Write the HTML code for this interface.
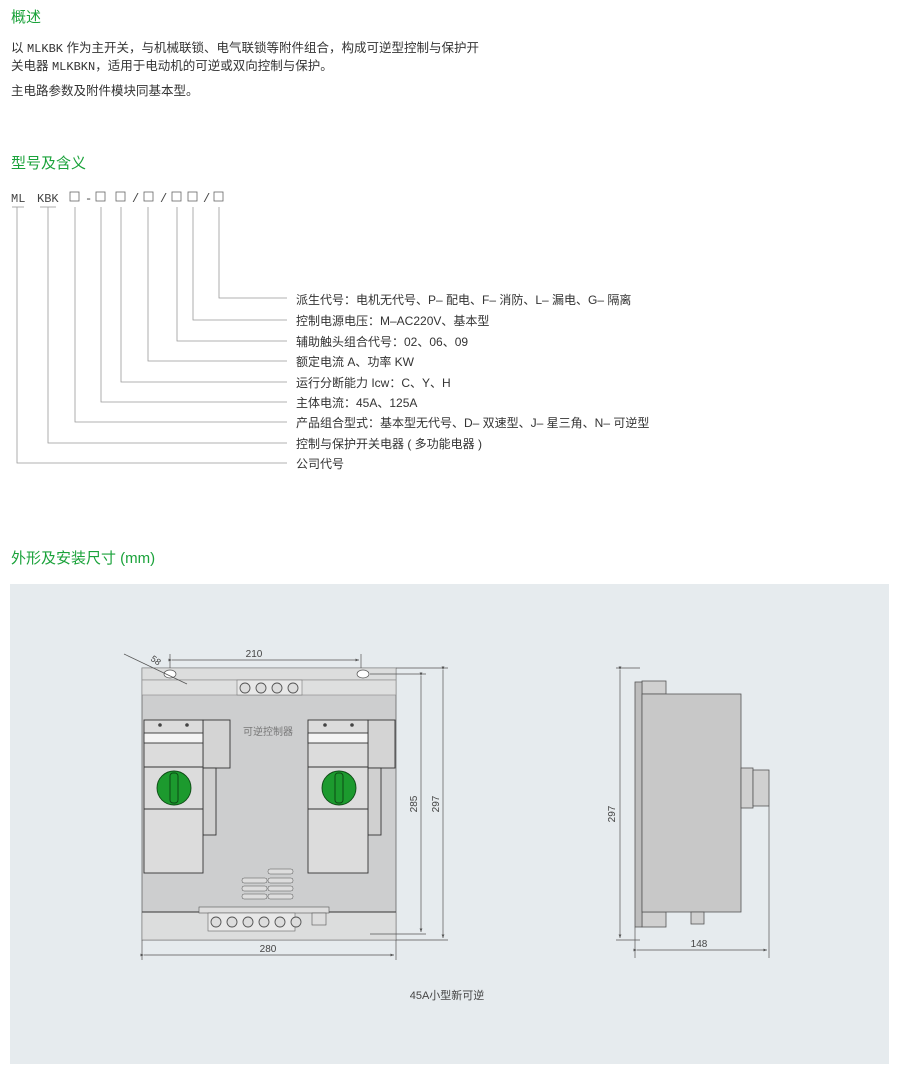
<!DOCTYPE html>
<html><head><meta charset="utf-8">
<style>
body{margin:0;width:900px;height:1074px;background:#fff;position:relative;font-family:"Liberation Sans","Noto Sans CJK SC",sans-serif;color:#333;overflow:hidden}
.t{position:absolute;white-space:nowrap}
.h{color:#1aa23a;font-size:15px}
.p{font-size:12.5px;color:#333}
.mono{font-family:"Liberation Mono",monospace;font-size:12px}
.l{font-size:12px;color:#333}
</style></head><body>
<div class="t h" style="left:11px;top:6px">概述</div>
<div class="t p" style="left:11px;top:37px">以 <span class="mono">MLKBK</span> 作为主开关，与机械联锁、电气联锁等附件组合，构成可逆型控制与保护开</div>
<div class="t p" style="left:11px;top:55px">关电器 <span class="mono">MLKBKN</span>，适用于电动机的可逆或双向控制与保护。</div>
<div class="t p" style="left:11px;top:80px">主电路参数及附件模块同基本型。</div>
<div class="t h" style="left:11px;top:152px">型号及含义</div>
<div class="t h" style="left:11px;top:547px">外形及安装尺寸 (mm)</div>

<svg style="position:absolute;left:0;top:0" width="900" height="480">
<g font-family="Liberation Mono,monospace" font-size="12" fill="#444">
<text x="11" y="202">ML</text><text x="37" y="202">KBK</text>
<text x="85" y="202">-</text><text x="132" y="202">/</text><text x="160" y="202">/</text><text x="203" y="202">/</text>
</g>
<g fill="none" stroke="#666" stroke-width="0.8">
<rect x="70" y="192" width="9" height="9"/><rect x="96" y="192" width="9" height="9"/><rect x="116" y="192" width="9" height="9"/>
<rect x="144" y="192" width="9" height="9"/><rect x="172" y="192" width="9" height="9"/><rect x="188" y="192" width="9" height="9"/><rect x="214" y="192" width="9" height="9"/>
</g>
<g fill="none" stroke="#999" stroke-width="0.8">
<line x1="12" y1="207" x2="24" y2="207"/><line x1="40" y1="207" x2="56" y2="207"/>
<path d="M219 207V298H287M193 207V320H287M177 207V341H287M148 207V361H287M121 207V382H287M101 207V402H287M75 207V422H287M48 207V443H287M17 207V463H287"/>
</g>
</svg>
<div class="t l" style="left:296px;top:291px">派生代号：电机无代号、P– 配电、F– 消防、L– 漏电、G– 隔离</div>
<div class="t l" style="left:296px;top:312px">控制电源电压：M–AC220V、基本型</div>
<div class="t l" style="left:296px;top:333px">辅助触头组合代号：02、06、09</div>
<div class="t l" style="left:296px;top:353px">额定电流 A、功率 KW</div>
<div class="t l" style="left:296px;top:374px">运行分断能力 Icw：C、Y、H</div>
<div class="t l" style="left:296px;top:394px">主体电流：45A、125A</div>
<div class="t l" style="left:296px;top:414px">产品组合型式：基本型无代号、D– 双速型、J– 星三角、N– 可逆型</div>
<div class="t l" style="left:296px;top:435px">控制与保护开关电器 ( 多功能电器 )</div>
<div class="t l" style="left:296px;top:455px">公司代号</div>

<div style="position:absolute;left:10px;top:584px;width:879px;height:480px;background:#e6ebee"></div>
<svg style="position:absolute;left:0;top:0" width="900" height="1074">
<defs><marker id="a" markerWidth="6" markerHeight="6" refX="5" refY="3" orient="auto"><path d="M0,1L5,3L0,5z" fill="#555"/></marker></defs>
<rect x="142" y="668" width="254" height="272" fill="#cdcecf" stroke="#666" stroke-width="0.8"/>
<rect x="142" y="668" width="254" height="12" fill="#dcdddd" stroke="#888" stroke-width="0.6"/>
<rect x="142" y="680" width="254" height="15" fill="#dedfdf" stroke="#888" stroke-width="0.6"/>
<rect x="237" y="680" width="65" height="15" fill="#e8e8e8" stroke="#777" stroke-width="0.6"/>
<g fill="#ddd" stroke="#555" stroke-width="0.9"><circle cx="245" cy="688" r="5"/><circle cx="261" cy="688" r="5"/><circle cx="277" cy="688" r="5"/><circle cx="293" cy="688" r="5"/></g>
<g fill="#fff" stroke="#555" stroke-width="0.7"><ellipse cx="170" cy="674" rx="6" ry="4"/><ellipse cx="363" cy="674" rx="6" ry="4"/><ellipse cx="170" cy="934" rx="6" ry="4"/><ellipse cx="363" cy="934" rx="6" ry="4"/></g>
<rect x="142" y="912" width="254" height="28" fill="#dcdddd" stroke="#777" stroke-width="0.6"/>
<line x1="142" y1="912" x2="396" y2="912" stroke="#555" stroke-width="1.2"/>
<rect x="199" y="907" width="130" height="6" fill="#ddd" stroke="#555" stroke-width="0.6"/>
<rect x="208" y="913" width="87" height="18" fill="#e8e8e8" stroke="#666" stroke-width="0.6"/>
<g fill="#ddd" stroke="#555" stroke-width="0.9"><circle cx="216" cy="922" r="5"/><circle cx="232" cy="922" r="5"/><circle cx="248" cy="922" r="5"/><circle cx="264" cy="922" r="5"/><circle cx="280" cy="922" r="5"/><circle cx="296" cy="922" r="5"/></g>
<rect x="312" y="913" width="14" height="12" fill="#ddd" stroke="#555" stroke-width="0.6"/>
<g stroke="#333" stroke-width="0.9">
<rect x="203" y="720" width="27" height="48" fill="#d4d4d4"/><rect x="203" y="768" width="13" height="67" fill="#d0d0d0"/>
<rect x="144" y="720" width="59" height="153" fill="#dcdcdc"/>
<rect x="144" y="733" width="59" height="10" fill="#f4f4f4"/>
<line x1="144" y1="767" x2="203" y2="767"/><line x1="144" y1="809" x2="203" y2="809"/>
<rect x="368" y="720" width="27" height="48" fill="#d4d4d4"/><rect x="368" y="768" width="13" height="67" fill="#d0d0d0"/>
<rect x="308" y="720" width="60" height="153" fill="#dcdcdc"/>
<rect x="308" y="733" width="60" height="10" fill="#f4f4f4"/>
<line x1="308" y1="767" x2="368" y2="767"/><line x1="308" y1="809" x2="368" y2="809"/>
</g>
<g fill="#444"><circle cx="160" cy="725" r="1.8"/><circle cx="187" cy="725" r="1.8"/><circle cx="325" cy="725" r="1.8"/><circle cx="352" cy="725" r="1.8"/></g>
<g fill="#1c9a2e" stroke="#0d4a14" stroke-width="0.9"><circle cx="174" cy="788" r="17"/><circle cx="339" cy="788" r="17"/></g>
<g fill="none" stroke="#0d4a14" stroke-width="1"><rect x="170" y="773" width="8" height="30" rx="3"/><rect x="335" y="773" width="8" height="30" rx="3"/></g>
<text x="243" y="735" font-size="10" fill="#777" font-family="Noto Sans CJK SC,sans-serif">可逆控制器</text>
<g fill="#ddd" stroke="#555" stroke-width="0.5">
<rect x="268" y="869" width="25" height="5" rx="2"/><rect x="242" y="878" width="25" height="5" rx="2"/><rect x="268" y="878" width="25" height="5" rx="2"/>
<rect x="242" y="886" width="25" height="5" rx="2"/><rect x="268" y="886" width="25" height="5" rx="2"/><rect x="242" y="894" width="25" height="5" rx="2"/><rect x="268" y="894" width="25" height="5" rx="2"/>
</g>
<g stroke="#555" stroke-width="0.7" fill="none">
<line x1="170" y1="654" x2="170" y2="668"/><line x1="361" y1="654" x2="361" y2="668"/>
<line x1="172" y1="660" x2="359" y2="660" marker-end="url(#a)" marker-start="url(#a)"/>
<line x1="124" y1="654" x2="187" y2="684"/>
<line x1="370" y1="674" x2="426" y2="674"/><line x1="370" y1="934" x2="426" y2="934"/>
<line x1="396" y1="668" x2="448" y2="668"/><line x1="396" y1="940" x2="448" y2="940"/>
<line x1="421" y1="676" x2="421" y2="932" marker-end="url(#a)" marker-start="url(#a)"/>
<line x1="443" y1="670" x2="443" y2="938" marker-end="url(#a)" marker-start="url(#a)"/>
<line x1="142" y1="940" x2="142" y2="960"/><line x1="396" y1="940" x2="396" y2="960"/>
<line x1="144" y1="955" x2="394" y2="955" marker-end="url(#a)" marker-start="url(#a)"/>
</g>
<g font-size="10" fill="#444" font-family="Liberation Sans,sans-serif">
<text x="254" y="657" text-anchor="middle">210</text>
<text x="268" y="952" text-anchor="middle">280</text>
<text transform="translate(150,660) rotate(35)" font-size="9">58</text>
<text transform="translate(417,804) rotate(-90)" text-anchor="middle">285</text>
<text transform="translate(439,804) rotate(-90)" text-anchor="middle">297</text>
</g>
<g stroke="#555" stroke-width="0.8">
<rect x="642" y="681" width="24" height="13" fill="#d0d0d0"/><rect x="642" y="912" width="24" height="15" fill="#d0d0d0"/>
<rect x="635" y="682" width="7" height="245" fill="#bdbdbd"/>
<rect x="642" y="694" width="99" height="218" fill="#c8c8c8"/>
<rect x="741" y="768" width="12" height="40" fill="#d0d0d0"/><rect x="753" y="770" width="16" height="36" fill="#d0d0d0"/>
<rect x="691" y="912" width="13" height="12" fill="#d0d0d0"/>
</g>
<g stroke="#555" stroke-width="0.7" fill="none">
<line x1="616" y1="668" x2="640" y2="668"/><line x1="616" y1="940" x2="640" y2="940"/>
<line x1="620" y1="670" x2="620" y2="938" marker-end="url(#a)" marker-start="url(#a)"/>
<line x1="635" y1="927" x2="635" y2="958"/><line x1="769" y1="806" x2="769" y2="958"/>
<line x1="637" y1="950" x2="767" y2="950" marker-end="url(#a)" marker-start="url(#a)"/>
</g>
<g font-size="10" fill="#444" font-family="Liberation Sans,sans-serif">
<text x="699" y="947" text-anchor="middle">148</text>
<text transform="translate(615,814) rotate(-90)" text-anchor="middle">297</text>
</g>
<text x="447" y="999" font-size="11" fill="#444" text-anchor="middle" font-family="Liberation Sans,Noto Sans CJK SC,sans-serif">45A小型新可逆</text>
</svg>
</body></html>
